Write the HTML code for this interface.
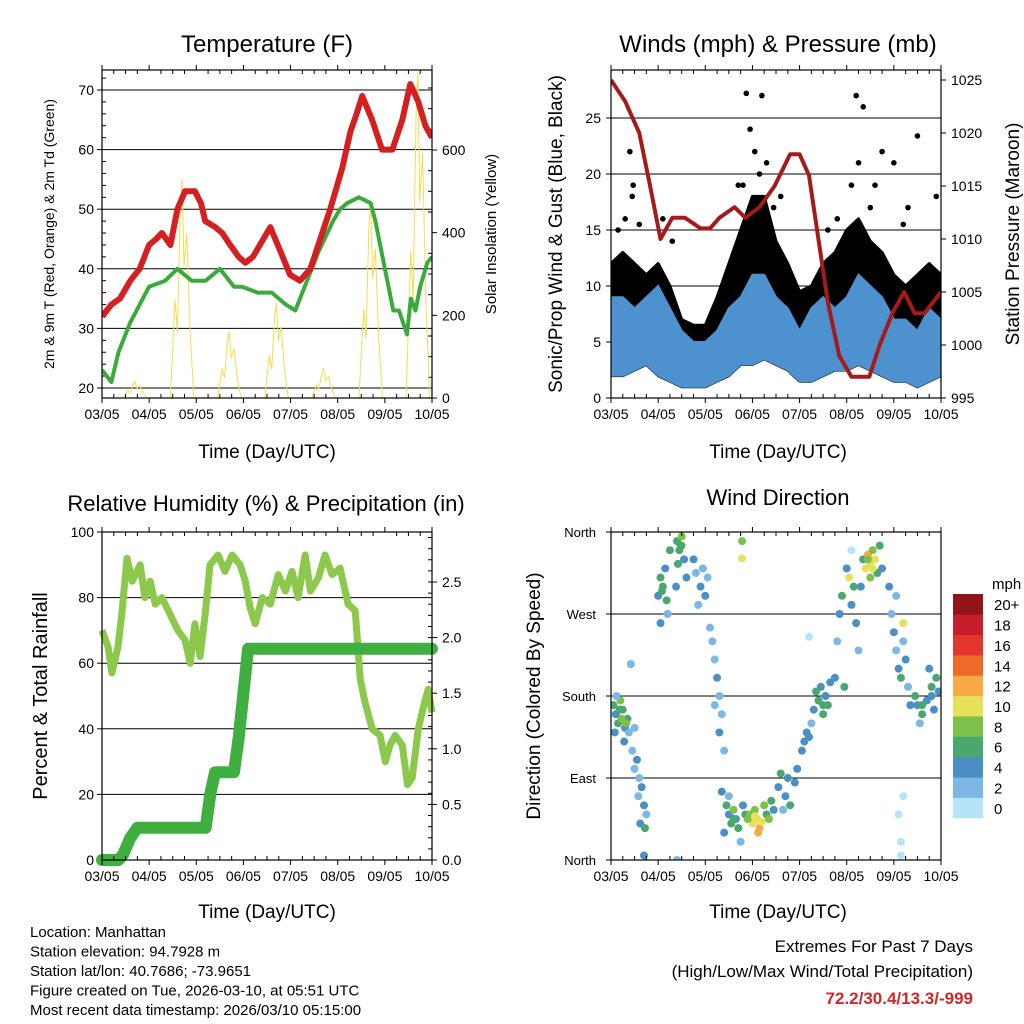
<!DOCTYPE html>
<html><head><meta charset="utf-8"><style>
html,body{margin:0;padding:0;background:#fff;}
svg{display:block;font-family:"Liberation Sans",sans-serif;}
</style></head><body>
<svg id="c" width="1024" height="1024" xmlns="http://www.w3.org/2000/svg"></svg>
<script>
// ---------- DATA ----------
const dayTicks = ["03/05","04/05","05/05","06/05","07/05","08/05","09/05","10/05"];
// Temperature
const tDays = [0,0.2,0.38,0.6,0.8,1.0,1.15,1.27,1.45,1.6,1.76,1.97,2.1,2.19,2.4,2.55,2.72,2.9,3.04,3.2,3.35,3.57,3.78,3.99,4.2,4.42,4.63,4.84,5.1,5.27,5.4,5.52,5.73,5.94,6.16,6.37,6.54,6.71,6.86,7];
const tVals = [32,34,35,38,40,44,45,46,44,50,53,53,51,48,47,46,44,42,41,42,44,47,43,39,38,40,45,50,57,63,66,69,65,60,60,65,71,68,64,62];
const tdDays = [0,0.2,0.35,0.6,0.8,1.0,1.34,1.6,1.9,2.2,2.5,2.8,2.97,3.3,3.6,3.9,4.1,4.3,4.6,4.9,5.05,5.2,5.45,5.7,5.8,6.0,6.18,6.3,6.47,6.55,6.65,6.75,6.9,7];
const tdVals = [23,21,26,31,34,37,38,40,38,38,40,37,37,36,36,34,33,37,43,48,50,51,52,51,48,40,33,33,29,35,33,37,41,42];
const solarPeaks = [40,530,160,230,70,480,790];
const tempTicks = [20,30,40,50,60,70];
const solarTicks = [0,200,400,600];
// Winds
const wDays = [0,0.25,0.5,0.75,1,1.25,1.5,1.75,2,2.25,2.5,2.75,3,3.25,3.5,3.75,4,4.25,4.5,4.75,5,5.25,5.5,5.75,6,6.25,6.5,6.75,7];
const blueHi = [9,9,8,9,10,8,6,5,5,6,8,9,11,11,9,8,6,8,9,8,9,11,10,9,7,7,6,8,7];
const blueLo = [2,2,2.5,3,2,1.5,1,1,1,1.5,2,3,3,3.5,3,2.5,1.5,1.5,2,2.5,2.5,3,2.5,2,1.5,1.5,1,1.5,2];
const gustTop = [12,13,12,11,12,10,7,6.5,6.5,9,12,15,18,18,14,12,9.5,10,12,13,15,16,14,13,11,10,11,12,11];
const gustDotDays = [0.4,0.47,0.45,0.3,0.6,2.87,2.95,3.2,3.05,3.3,3.15,2.8,5.2,5.35,5.25,5.75,6.0,6.5,6.9,4.8,1.1,2.7,3.6,5.6,5.1,5.5,6.2,6.3,4.6,0.15,1.3,3.45];
const gustDotVals = [22,19,18,16,15.5,27.2,24,27,22,21,20,19,27,26,21,22,21,23.4,18,16,16,19,18,19,19,17,15.5,17,15,15,14,17];
const pDays = [0,0.3,0.6,0.83,1.05,1.3,1.57,1.9,2.1,2.3,2.62,2.85,3.15,3.47,3.8,4.0,4.2,4.4,4.6,4.84,5.1,5.27,5.48,5.7,5.97,6.22,6.44,6.65,7];
const pVals = [1025,1023,1020,1015,1010,1012,1012,1011,1011,1012,1013,1012,1013,1015,1018,1018,1016,1010,1004,999,997,997,997,1000,1003,1005,1003,1003,1005];
const windTicks = [0,5,10,15,20,25];
const presTicks = [995,1000,1005,1010,1015,1020,1025];
// RH & precip
const rhDays = [0,0.13,0.21,0.34,0.42,0.53,0.64,0.81,0.91,1.02,1.13,1.27,1.44,1.61,1.76,1.87,1.97,2.08,2.19,2.29,2.46,2.61,2.76,2.93,3.04,3.14,3.25,3.4,3.57,3.74,3.89,4.03,4.16,4.31,4.42,4.59,4.73,4.88,5.05,5.22,5.37,5.48,5.58,5.73,5.9,6.01,6.11,6.22,6.37,6.48,6.58,6.71,6.84,6.92,7];
const rhVals = [70,65,57,65,75,92,85,90,80,85,78,80,75,70,67,60,72,62,75,90,93,88,93,90,85,77,72,80,78,87,82,88,80,93,82,86,93,87,89,78,76,55,48,40,38,30,35,38,35,23,25,40,48,52,45];
const prDays = [0,0.35,0.45,0.6,0.75,2.2,2.3,2.4,2.8,2.9,3.0,3.1,7];
const prVals = [0,0,0.05,0.2,0.29,0.29,0.6,0.79,0.79,1.1,1.5,1.9,1.9];
const rhTicks = [0,20,40,60,80,100];
const prTicks = ["0.0","0.5","1.0","1.5","2.0","2.5"];
// Wind direction
const wdDay = [0.05,0.1,0.15,0.2,0.25,0.3,0.35,0.12,0.28,0.38,0.08,0.22,
0.45,0.5,0.55,0.6,0.65,0.7,0.75,0.62,0.72,0.58,0.5,0.42,
1.0,1.05,1.1,1.15,1.2,1.05,1.25,1.18,
1.4,1.45,1.5,1.55,1.42,1.5,1.6,1.38,
1.75,1.8,1.9,1.95,2.0,2.05,1.85,2.1,
2.15,2.2,2.25,2.3,2.35,2.2,2.3,2.4,
2.35,2.45,2.5,2.55,2.6,2.65,2.7,2.8,2.85,2.4,2.75,2.5,
2.95,3.0,3.05,3.1,3.15,3.2,3.25,3.3,3.35,3.4,3.45,3.12,
3.55,3.6,3.7,3.75,3.8,3.9,3.95,3.65,
4.05,4.15,4.25,4.3,4.4,4.5,4.55,4.6,4.45,4.2,4.35,4.65,
4.75,4.8,4.85,4.9,5.0,5.05,5.1,5.15,5.2,5.25,4.95,5.3,
5.35,5.4,5.45,5.5,5.55,5.6,5.65,5.7,5.5,5.75,
5.9,5.95,6.0,6.05,6.1,6.15,6.2,6.25,6.3,6.2,6.35,6.05,
6.45,6.5,6.6,6.7,6.8,6.85,6.9,6.95,6.55,6.75,
6.1,6.15,6.2,6.15,0.7,1.4,4.2,5.1,2.78,2.78,
0.18,0.32,1.08,1.48,2.6,2.9,3.05,4.1,4.5,5.45,5.55,6.6,6.8];
const wdDir = [170,160,150,175,165,145,155,180,130,140,140,155,
120,100,110,90,80,60,50,40,35,70,145,215,
290,310,300,320,270,260,340,285,
350,340,355,330,325,345,310,300,
330,315,300,320,290,310,280,255,
240,220,200,180,160,170,140,120,
75,60,50,40,55,45,35,60,50,30,20,70,
50,40,55,45,35,42,60,50,45,65,55,30,
80,95,70,90,60,85,100,55,
120,140,150,165,175,160,180,170,190,135,185,195,
200,240,270,290,320,310,280,300,260,230,190,300,
330,320,335,325,340,330,315,345,310,320,
300,270,250,230,210,200,240,220,190,260,170,290,
180,170,160,175,190,165,200,185,150,210,
50,20,70,5,5,0,245,340,331,350,
165,150,295,345,45,45,48,130,170,330,320,170,180];
const wdSpd = [6,4,6,8,6,4,6,2,4,2,4,8,
2,2,4,2,4,4,2,4,6,2,2,2,
4,6,6,4,2,4,6,6,
6,6,8,4,6,8,4,4,
4,2,4,2,4,2,2,2,
2,2,4,2,2,2,4,2,
4,6,4,6,8,4,6,4,6,4,2,2,
8,10,8,10,12,10,8,6,8,6,4,12,
4,6,4,4,6,4,4,2,
4,4,2,4,6,6,4,6,4,4,6,4,
4,2,4,6,4,10,4,6,4,2,6,4,
6,10,12,10,8,10,6,6,8,4,
4,2,4,2,4,6,2,4,2,10,4,2,
6,4,6,4,6,4,6,4,2,4,
0,0,0,0,4,2,0,0,10,8,
6,8,6,6,6,8,10,4,6,8,10,6,4];
const cbLabels = ["0","2","4","6","8","10","12","14","16","18","20+"];
const cbColors = ["#b7e3f7","#7cb8e3","#4a8fc6","#4aa86e","#7dc04a","#e6e05a","#f7aa45","#f06a2a","#e2352b","#c41f2a","#901518"];

// ---------- HELPERS ----------
const S = document.getElementById('c');
const NS = "http://www.w3.org/2000/svg";
function mk(tag, attrs, parent){const e=document.createElementNS(NS,tag);for(const k in attrs)e.setAttribute(k,attrs[k]);(parent||S).appendChild(e);return e;}
function txt(x,y,s,size,anchor,extra){const e=mk('text',Object.assign({x:x,y:y,'font-size':size,'text-anchor':anchor||'middle',fill:'#000'},extra||{}));e.textContent=s;return e;}
function lin(d0,d1,r0,r1){return v=>r0+(v-d0)/(d1-d0)*(r1-r0);}

function frame(x0,y0,x1,y1,name){
  const g=mk('g',{});
  
  
  return g;
}
function xAxis(g,x,y1,yTop){
  dayTicks.forEach((t,i)=>{
    const px=x(i);
    mk('line',{x1:px,x2:px,y1:y1,y2:y1+5,stroke:'#000'},g);
    mk('line',{x1:px,x2:px,y1:yTop,y2:yTop-5,stroke:'#000'},g);
    const e=txt(px,y1+21,t,14);
    
    
  });
  for(let i=0;i<7;i++){for(let k=1;k<4;k++){const px=x(i+k/4);
    mk('line',{x1:px,x2:px,y1:y1,y2:y1-4,stroke:'#000'},g);
    mk('line',{x1:px,x2:px,y1:yTop,y2:yTop+4,stroke:'#000'},g);}}
}
function pathOf(xs,ys,x,y){return xs.map((d,i)=>(i?'L':'M')+x(d).toFixed(1)+','+y(ys[i]).toFixed(1)).join('');}

// ---------- PANEL 1: TEMPERATURE ----------
(function(){
  const X0=102,X1=432,Y0=70,Y1=398;
  const x=lin(0,7,X0,X1), y=lin(20,70,388,90), ys=lin(0,600,398,150);
  const g=frame(X0,Y0,X1,Y1,'temperature-panel');
  const cp=mk('clipPath',{id:'cp1'},g);mk('rect',{x:X0,y:Y0,width:X1-X0,height:Y1-Y0},cp);
  tempTicks.forEach(t=>{mk('line',{x1:X0,x2:X1,y1:y(t),y2:y(t),stroke:'#000','stroke-width':1},g);
    mk('line',{x1:X0,x2:X0-5,y1:y(t),y2:y(t),stroke:'#000'},g);
    const e=txt(X0-8,y(t)+5,String(t),14,'end');});
  for(let t=20;t<=72;t+=2){if(t%10)mk('line',{x1:X0,x2:X0+4,y1:y(t),y2:y(t),stroke:'#000'},g);}
  solarTicks.forEach(t=>{mk('line',{x1:X1,x2:X1+5,y1:ys(t),y2:ys(t),stroke:'#000'},g);
    const e=txt(X1+10,ys(t)+5,String(t),14,'start');});
  for(let t=50;t<=750;t+=50){if(t%200)mk('line',{x1:X1,x2:X1-4,y1:ys(t),y2:ys(t),stroke:'#000'},g);}
  const pg=mk('g',{'clip-path':'url(#cp1)'},g);
  solarPeaks.forEach((p,i)=>{
    const pts=[[i+0.45,0],[i+0.55,p*0.45],[i+0.6,p*0.3],[i+0.66,p*0.85],[i+0.7,p],[i+0.74,p*0.6],[i+0.8,p*0.75],[i+0.87,p*0.3],[i+0.95,0]];
    const e=mk('path',{d:pts.map((q,k)=>(k?'L':'M')+x(q[0])+','+ys(q[1])).join(''),fill:'none',stroke:'#f5dc50','stroke-width':1},pg);
    
    
  });
  let e=mk('path',{d:pathOf(tdDays,tdVals,x,y),fill:'none',stroke:'#3aaa3a','stroke-width':4,'stroke-linejoin':'round'},pg);
  
  e=mk('path',{d:pathOf(tDays,tVals,x,y),fill:'none',stroke:'#d42020','stroke-width':6,'stroke-linejoin':'round'},pg);
  
  mk('rect',{x:X0,y:Y0,width:X1-X0,height:Y1-Y0,fill:'none',stroke:'#000','stroke-width':1.2},g);
  xAxis(g,x,Y1,Y0);
  e=txt(267,52,'Temperature (F)',24);
  e=txt(267,458,'Time (Day/UTC)',19);
  e=txt(0,0,'2m & 9m T (Red, Orange) & 2m Td (Green)',14,'middle',{transform:'translate(54,234) rotate(-90)'});
  e=txt(0,0,'Solar Insolation (Yellow)',15,'middle',{transform:'translate(496,234) rotate(-90)'});
})();

// ---------- PANEL 2: WINDS ----------
(function(){
  const X0=611,X1=941,Y0=70,Y1=398;
  const x=lin(0,7,X0,X1), y=lin(0,25,398,118), yp=lin(995,1025,398,80);
  const g=frame(X0,Y0,X1,Y1,'winds-panel');
  const cp=mk('clipPath',{id:'cp2'},g);mk('rect',{x:X0,y:Y0,width:X1-X0,height:Y1-Y0},cp);
  windTicks.forEach(t=>{mk('line',{x1:X0,x2:X1,y1:y(t),y2:y(t),stroke:'#000'},g);
    mk('line',{x1:X0,x2:X0-5,y1:y(t),y2:y(t),stroke:'#000'},g);
    const e=txt(X0-10,y(t)+5,String(t),14,'end');});
  presTicks.forEach(t=>{mk('line',{x1:X1,x2:X1+5,y1:yp(t),y2:yp(t),stroke:'#000'},g);
    const e=txt(X1+10,yp(t)+5,String(t),14,'start');});
  const pg=mk('g',{'clip-path':'url(#cp2)'},g);
  let dd='M'+wDays.map((d,i)=>x(d)+','+y(gustTop[i])).join('L');
  for(let i=wDays.length-1;i>=0;i--)dd+='L'+x(wDays[i])+','+y(blueLo[i]);
  let e=mk('path',{d:dd+'Z',fill:'#000','stroke':'#000','stroke-width':3,'stroke-linejoin':'round'},pg);
  
  dd='M'+wDays.map((d,i)=>x(d)+','+y(blueHi[i])).join('L');
  for(let i=wDays.length-1;i>=0;i--)dd+='L'+x(wDays[i])+','+y(blueLo[i]);
  e=mk('path',{d:dd+'Z',fill:'#4d92cf',stroke:'#4d92cf','stroke-width':2},pg);
  
  gustDotDays.forEach((d,i)=>{const c=mk('circle',{cx:x(d),cy:y(gustDotVals[i]),r:2.8,fill:'#000'},pg);
    });
  e=mk('path',{d:pathOf(pDays,pVals,x,yp),fill:'none',stroke:'#a31b1b','stroke-width':4,'stroke-linejoin':'round'},pg);
  
  mk('rect',{x:X0,y:Y0,width:X1-X0,height:Y1-Y0,fill:'none',stroke:'#000','stroke-width':1.2},g);
  xAxis(g,x,Y1,Y0);
  e=txt(778,52,'Winds (mph) & Pressure (mb)',24);
  e=txt(778,458,'Time (Day/UTC)',19);
  e=txt(0,0,'Sonic/Prop Wind & Gust (Blue, Black)',19,'middle',{transform:'translate(562,234) rotate(-90)'});
  e=txt(0,0,'Station Pressure (Maroon)',19,'middle',{transform:'translate(1019,234) rotate(-90)'});
})();

// ---------- PANEL 3: RH & PRECIP ----------
(function(){
  const X0=102,X1=432,Y0=532,Y1=860;
  const x=lin(0,7,X0,X1), y=lin(0,100,860,532), yr=lin(0,2.5,860,582);
  const g=frame(X0,Y0,X1,Y1,'humidity-panel');
  const cp=mk('clipPath',{id:'cp3'},g);mk('rect',{x:X0-6,y:Y0,width:X1-X0+12,height:Y1-Y0+6},cp);
  rhTicks.forEach(t=>{mk('line',{x1:X0,x2:X1,y1:y(t),y2:y(t),stroke:'#000'},g);
    mk('line',{x1:X0,x2:X0-5,y1:y(t),y2:y(t),stroke:'#000'},g);
    const e=txt(X0-8,y(t)+5,String(t),14,'end');});
  prTicks.forEach(t=>{const v=parseFloat(t);mk('line',{x1:X1,x2:X1+5,y1:yr(v),y2:yr(v),stroke:'#000'},g);
    const e=txt(X1+10,yr(v)+5,t,14,'start');});
  for(let v=0.1;v<2.95;v+=0.1){mk('line',{x1:X1,x2:X1-4,y1:yr(v),y2:yr(v),stroke:'#000'},g);}
  const pg=mk('g',{'clip-path':'url(#cp3)'},g);
  let e=mk('path',{d:pathOf(rhDays,rhVals,x,y),fill:'none',stroke:'#8cc84b','stroke-width':7,'stroke-linejoin':'round'},pg);
  
  e=mk('path',{d:pathOf(prDays,prVals,x,yr),fill:'none',stroke:'#3fb040','stroke-width':12,'stroke-linejoin':'round','stroke-linecap':'round'},pg);
  
  mk('rect',{x:X0,y:Y0,width:X1-X0,height:Y1-Y0,fill:'none',stroke:'#000','stroke-width':1.2},g);
  xAxis(g,x,Y1,Y0);
  e=txt(266,511,'Relative Humidity (%) & Precipitation (in)',22);
  e=txt(267,918,'Time (Day/UTC)',19);
  e=txt(0,0,'Percent & Total Rainfall',20,'middle',{transform:'translate(47,696) rotate(-90)'});
})();

// ---------- PANEL 4: WIND DIRECTION ----------
(function(){
  const X0=611,X1=941,Y0=532,Y1=860;
  const x=lin(0,7,X0,X1), y=lin(0,360,860,532);
  const g=frame(X0,Y0,X1,Y1,'wind-direction-panel');
  const cp=mk('clipPath',{id:'cp4'},g);mk('rect',{x:X0,y:Y0,width:X1-X0,height:Y1-Y0},cp);
  const dl=["North","East","South","West","North"];
  dl.forEach((t,i)=>{const py=y(i*90);mk('line',{x1:X0,x2:X1,y1:py,y2:py,stroke:'#000'},g);
    mk('line',{x1:X0,x2:X0-5,y1:py,y2:py,stroke:'#000'},g);
    const e=txt(X0-15,py+5,t,13,'end');});
  const pg=mk('g',{'clip-path':'url(#cp4)'},g);
  wdDay.forEach((d,i)=>{const k=Math.min(10,Math.floor(wdSpd[i]/2));
    const c=mk('circle',{cx:x(d),cy:y(wdDir[i]),r:4,fill:cbColors[k]},pg);
    });
  mk('rect',{x:X0,y:Y0,width:X1-X0,height:Y1-Y0,fill:'none',stroke:'#000','stroke-width':1.2},g);
  xAxis(g,x,Y1,Y0);
  let e=txt(778,505,'Wind Direction',22);
  e=txt(778,918,'Time (Day/UTC)',19);
  e=txt(0,0,'Direction (Colored By Speed)',19,'middle',{transform:'translate(540,696) rotate(-90)'});
  const cb=mk('g',{});
  
  const h=224/11;
  cbColors.forEach((c,i)=>{const top=818-(i+1)*h;
    mk('rect',{x:953,y:top,width:30,height:h+0.3,fill:c},cb);
    const t=txt(994,top+h/2+6,cbLabels[i],15,'start');});
  e=txt(992,589,'mph',15,'start');
})();

// ---------- FOOTER ----------
["Location: Manhattan","Station elevation: 94.7928 m","Station lat/lon: 40.7686; -73.9651","Figure created on Tue, 2026-03-10, at 05:51 UTC","Most recent data timestamp: 2026/03/10 05:15:00"].forEach((s,i)=>{
  const e=txt(30,937+i*19.5,s,15,'start');});
let f=txt(973,952,'Extremes For Past 7 Days',17,'end');
f=txt(973,977,'(High/Low/Max Wind/Total Precipitation)',17,'end');
f=txt(973,1004,'72.2/30.4/13.3/-999',17,'end',{fill:'#d02828','font-weight':'bold'});
</script>
</body></html>
